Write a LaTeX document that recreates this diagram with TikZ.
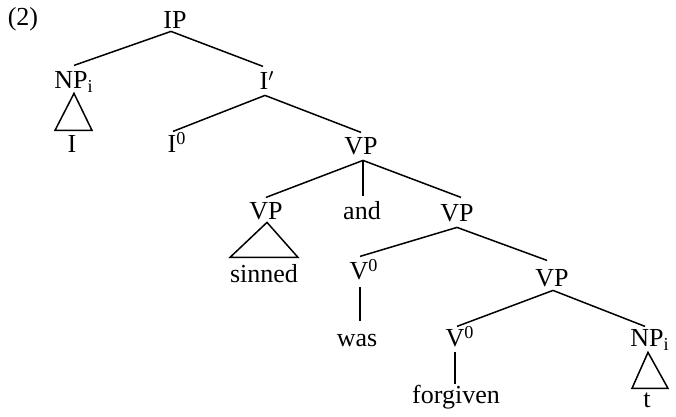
\documentclass[tikz,border=0pt]{standalone}
\usepackage{fontspec}
\setmainfont{Liberation Serif}
\begin{document}
\begin{tikzpicture}[x=0.5pt,y=-0.5pt,
  lab/.style={anchor=base,inner sep=0pt,text height=8.6pt,text depth=0pt,font=\fontsize{13}{15}\selectfont},
  branch/.style={line width=0.75pt}]
\useasboundingbox (0,0) rectangle (676,417);
% nodes
\node[lab] (ex)  at (23,26)   {(2)};
\node[lab] (ip)  at (175,29)  {IP};
\node[lab] (np)  at (74,89)   {NP\textsubscript{i}};
\node[lab] (ib)  at (267,90)  {I$'$};
\node[lab] (i)   at (72,153)  {I};
\node[lab] (io)  at (177,153) {I\textsuperscript{0}};
\node[lab] (vp)  at (361,155) {VP};
\node[lab] (vpl) at (266,220) {VP};
\node[lab] (and) at (362,220) {and};
\node[lab] (vpr) at (457,222) {VP};
\node[lab] (sin) at (264,283) {sinned};
\node[lab] (voa) at (364,280) {V\textsuperscript{0}};
\node[lab] (was) at (357,347) {was};
\node[lab] (vpb) at (552,287) {VP};
\node[lab] (vob) at (460,347) {V\textsuperscript{0}};
\node[lab] (npb) at (650,347) {NP\textsubscript{i}};
\node[lab] (for) at (456,403) {forgiven};
\node[lab] (t)   at (647,408) {t};
% branches
\draw[branch] ([xshift=-2pt,yshift=-1pt]ip.south) -- ([yshift=3pt]np.north);
\draw[branch] ([xshift=-2pt,yshift=-1pt]ip.south) -- ([xshift=-2pt,yshift=3pt]ib.north);
\draw[branch] ([yshift=-2pt]np.south) -- ++(-19,37) -- ++(37,0) -- cycle;
\draw[branch] ([xshift=-1pt,yshift=-2.5pt]ib.south) -- ([xshift=-2pt,yshift=2pt]io.north);
\draw[branch] ([xshift=-1pt,yshift=-2.5pt]ib.south) -- ([yshift=2.5pt]vp.north);
\draw[branch] ([xshift=1pt,yshift=-2.5pt]vp.south) -- ([yshift=2.5pt]vpl.north);
\draw[branch] ([xshift=1pt,yshift=-2.5pt]vp.south) -- ([xshift=0.5pt,yshift=3pt]and.north);
\draw[branch] ([xshift=1pt,yshift=-2.5pt]vp.south) -- ([xshift=2pt,yshift=3.5pt]vpr.north);
\draw[branch] ([xshift=0.5pt,yshift=-1pt]vpl.south) -- ++(-37,35) -- ++(68,0) -- cycle;
\draw[branch] ([yshift=-2.5pt]vpr.south) -- ([xshift=-2pt,yshift=3pt]voa.north);
\draw[branch] ([yshift=-2.5pt]vpr.south) -- ([xshift=-2.5pt,yshift=4.5pt]vpb.north);
\draw[branch] ([xshift=-2pt,yshift=-3.5pt]voa.south) -- ([xshift=1.5pt,yshift=4pt]was.north);
\draw[branch] ([xshift=0.5pt,yshift=-1.5pt]vpb.south) -- ([xshift=-1.5pt,yshift=1.5pt]vob.north);
\draw[branch] ([xshift=0.5pt,yshift=-1.5pt]vpb.south) -- ([xshift=-2.5pt,yshift=1.5pt]npb.north);
\draw[branch] ([xshift=-2.5pt,yshift=-2.5pt]vob.south) -- ([xshift=-0.5pt,yshift=0.5pt]for.north);
\draw[branch] ([xshift=-1pt,yshift=-2.5pt]npb.south) -- ++(-16,36) -- ++(36,0) -- cycle;
\end{tikzpicture}
\end{document}
